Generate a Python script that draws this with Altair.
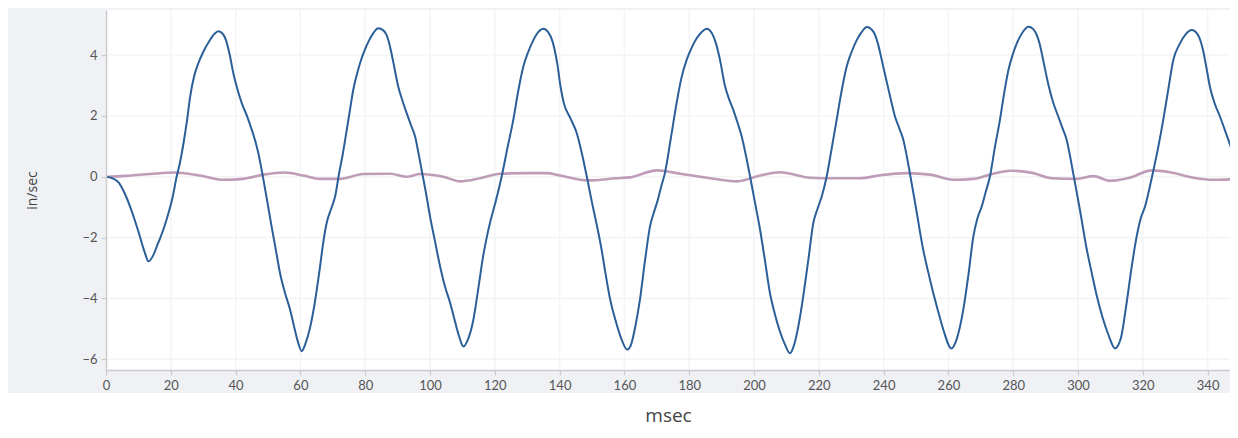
import altair as alt
import pandas as pd

# ---- data ----
blue_t = [0, 2, 4, 6, 8, 10, 12, 13.1, 14.5, 16, 17.5, 19, 20.5, 21.8, 22.8, 24, 25, 26, 27.2, 28.5, 30, 32, 33.5, 34.7,
          36, 37, 38.2, 39.3, 40.5, 41.9, 43.5, 45, 46, 47, 48.6, 50, 51.1, 52.5, 53.7, 55.2, 56.8, 58, 59.3, 60.4,
          61.5, 63, 64.5, 66, 67, 68.1, 69.5, 70.7, 72, 73, 74.3, 75.3, 76.3, 77.4, 78.4, 79.8, 81, 82.5, 84.0,
          85.5, 86.5, 87.5, 88.7, 90.2, 91.5, 92.8, 94.1, 95.4, 96.4, 97.4, 98.7, 100, 101.5, 103.1, 104.6, 106.2, 107.7, 109, 110.3,
          111.5, 113.4, 115, 116.4, 117.5, 118.5, 120.3, 122.1, 123.9, 125.7, 127.2, 128.8, 130.3, 131.9, 133.4, 135.0,
          136.4, 137.8, 139.3, 140.3, 141.3, 143.2, 145.3, 146.8, 148.4, 150, 151.5, 152.8, 154.2, 155.6, 157.2, 158.8, 160.9,
          162.1, 163.4, 164.8, 166.3, 167.9, 169, 170.2, 171.4, 172.5, 174.3, 176.1, 177.6, 179.2, 180.8, 182.3, 183.8, 185.4,
          186.8, 188.2, 189.5, 191, 192.3, 193.6, 195, 196.2, 197.5, 198.8, 200.3, 201.8, 203.3, 204.9, 206.4, 207.9, 209.5, 211.1,
          212.3, 213.7, 215.2, 216.8, 218.3, 219.6, 220.9, 222.4, 224, 225.5, 227, 228.6, 230.1, 231.7, 233.2, 234.8,
          236.2, 237.2, 238.3, 239.5, 241, 242.3, 243.5, 244.8, 246.1, 247.1, 248.1, 250.1, 252.2, 253.8, 255.3, 256.9, 258.5, 260.9,
          262.5, 264.6, 266.2, 267.7, 269, 270.3, 271.5, 272.8, 274.3, 275.9, 277.2, 278.5, 279.8, 281.1, 282.9, 284.7,
          286.1, 287.1, 288.2, 289.4, 290.8, 292.3, 293.9, 295.2, 296.5, 297.5, 298.5, 300.6, 302.7, 304.3, 305.8, 307.5, 309.4, 311.4,
          313.1, 315, 316.5, 318.1, 319.4, 320.7, 322, 323.3, 324.8, 326.3, 327.9, 329.4, 331.3, 333.2, 335.1,
          336.4, 337.4, 338.5, 339.6, 340.7, 342.2, 343.8, 345.1, 346.4, 347.5, 348.5]
blue_v = [0, -0.05, -0.2, -0.6, -1.15, -1.8, -2.5, -2.78, -2.6, -2.2, -1.8, -1.3, -0.7, 0, 0.45, 1.15, 1.85, 2.65, 3.3, 3.73, 4.1, 4.48, 4.7, 4.78,
          4.7, 4.5, 4.0, 3.4, 2.9, 2.42, 2.0, 1.54, 1.2, 0.78, -0.1, -0.95, -1.63, -2.45, -3.16, -3.8, -4.36, -4.9, -5.45, -5.73,
          -5.5, -4.95, -4.1, -3.0, -2.2, -1.52, -1.05, -0.65, 0.15, 0.7, 1.54, 2.2, 2.85, 3.35, 3.73, 4.15, 4.44, 4.72, 4.88,
          4.82, 4.68, 4.35, 3.75, 2.96, 2.5, 2.09, 1.7, 1.32, 0.8, 0.23, -0.5, -1.3, -2.1, -2.94, -3.6, -4.14, -4.75, -5.25, -5.58,
          -5.4, -4.69, -3.6, -2.61, -2.0, -1.52, -0.8, 0, 0.95, 1.87, 2.8, 3.62, 4.1, 4.49, 4.75, 4.86,
          4.76, 4.45, 3.7, 2.95, 2.42, 1.95, 1.43, 0.8, 0, -0.85, -1.6, -2.3, -3.2, -4.03, -4.7, -5.25, -5.68,
          -5.5, -4.9, -4.03, -2.8, -1.63, -1.2, -0.8, -0.3, 0.12, 1.25, 2.42, 3.25, 3.84, 4.25, 4.55, 4.75, 4.86,
          4.75, 4.4, 3.84, 3.0, 2.55, 2.2, 1.75, 1.32, 0.7, 0, -0.85, -1.7, -2.7, -3.81, -4.5, -5.05, -5.5, -5.8,
          -5.55, -4.9, -3.92, -2.7, -1.52, -1.05, -0.65, 0, 0.95, 1.87, 2.8, 3.62, 4.1, 4.49, 4.75, 4.92,
          4.85, 4.7, 4.35, 3.8, 3.1, 2.5, 1.98, 1.6, 1.21, 0.7, 0.12, -1.1, -2.39, -3.15, -3.81, -4.45, -5.05, -5.64,
          -5.35, -4.36, -3.2, -1.96, -1.35, -0.97, -0.5, 0, 0.95, 1.87, 2.75, 3.5, 4.0, 4.38, 4.75, 4.93,
          4.86, 4.7, 4.35, 3.75, 3.05, 2.45, 1.98, 1.6, 1.21, 0.7, 0.12, -1.1, -2.39, -3.2, -3.92, -4.6, -5.2, -5.64,
          -5.35, -4.14, -3.0, -1.96, -1.35, -0.97, -0.4, 0.23, 1.0, 1.87, 2.9, 3.84, 4.35, 4.68, 4.82,
          4.75, 4.58, 4.2, 3.6, 2.96, 2.4, 1.98, 1.6, 1.21, 0.85, 0.45]

pink_t = [0, 6, 13.6, 20.8, 29, 36.2, 42.4, 48.6, 55.2, 60.9, 66, 72.2, 79.4, 87.7, 92.8, 96.9, 104.1, 109.3,
          115.4, 121.6, 129.8, 136, 140.1, 148.9, 157.6, 161.7, 170, 177.2, 185.4, 194.7, 201.9, 208, 217.3,
          224.5, 232.7, 238.9, 247.1, 254.3, 261.5, 267.7, 272.8, 279, 286.2, 291.9, 299.6, 304.7, 309.9, 316,
          322.7, 328.4, 335.6, 341.8, 348.5]
pink_v = [0, 0.03, 0.09, 0.14, 0.04, -0.1, -0.07, 0.07, 0.14, 0.04, -0.07, -0.07, 0.09, 0.1, 0, 0.09, 0, -0.15,
          -0.05, 0.1, 0.12, 0.12, 0.04, -0.12, -0.05, -0.02, 0.21, 0.1, -0.03, -0.15, 0.04, 0.15, -0.03,
          -0.05, -0.05, 0.05, 0.12, 0.07, -0.1, -0.07, 0.07, 0.2, 0.12, -0.05, -0.07, 0.02, -0.13, -0.03,
          0.21, 0.15, -0.03, -0.1, -0.08]

x_ticks = list(range(0, 341, 20))
y_ticks = [-6, -4, -2, 0, 2, 4]
x_domain = [0, 346.9]
y_domain = [-6.35, 5.48]

W, H = 1124, 360
PANEL = "#eff1f5"
BLUE = "#2b5f98"
PINK = "#b48cad"
GRID = "#f3f4f6"

blue = pd.DataFrame({"t": blue_t, "v": blue_v})
pink = pd.DataFrame({"t": pink_t, "v": pink_v})
xgrid = pd.DataFrame({"t": x_ticks})
ygrid = pd.DataFrame({"v": y_ticks})
one = pd.DataFrame({"k": [0]})

xscale = alt.Scale(domain=x_domain, nice=False, zero=False)
yscale = alt.Scale(domain=y_domain, nice=False, zero=False)

common_axis = dict(
    zindex=1, grid=False, labelFlush=False,
    domainColor="#c9cbcf", domainWidth=1.5, tickColor="#c9cbcf", tickSize=5, tickWidth=1.2,
    labelFont="Lato", labelFontSize=13, labelColor="#555555", labelPadding=4,
    titleFontWeight="normal", titleColor="#444444",
)
xaxis = alt.Axis(title="msec", values=x_ticks, titleFont="Open Sans", titleFontSize=19,
                 titlePadding=14, **common_axis)
yaxis = alt.Axis(title="in/sec", values=y_ticks, titleFont="Open Sans", titleFontSize=14,
                 titlePadding=42, **common_axis)

panel = alt.Chart(one).mark_rect(color=PANEL).encode(
    x=alt.value(-110), x2=alt.value(W + 20), y=alt.value(-10), y2=alt.value(H + 23)
)
plotbg = alt.Chart(one).mark_rect(color="white").encode(
    x=alt.value(0), x2=alt.value(W), y=alt.value(0), y2=alt.value(H)
)
vgrid = alt.Chart(xgrid).mark_rule(color=GRID, strokeWidth=1.5).encode(
    x=alt.X("t:Q", scale=xscale, axis=xaxis)
)
hgrid = alt.Chart(ygrid).mark_rule(color=GRID, strokeWidth=1.5).encode(
    y=alt.Y("v:Q", scale=yscale, axis=yaxis)
)

pink_line = alt.Chart(pink).mark_line(color=PINK, strokeWidth=2.6, opacity=0.85, clip=True,
                                      interpolate="monotone").encode(
    x=alt.X("t:Q", scale=xscale, axis=xaxis),
    y=alt.Y("v:Q", scale=yscale, axis=yaxis),
)
blue_line = alt.Chart(blue).mark_line(color=BLUE, strokeWidth=2, clip=True,
                                      interpolate="monotone").encode(
    x=alt.X("t:Q", scale=xscale, axis=xaxis),
    y=alt.Y("v:Q", scale=yscale, axis=yaxis),
)

chart = alt.layer(panel, plotbg, vgrid, hgrid, pink_line, blue_line).properties(
    width=W, height=H,
    autosize=alt.AutoSizeParams(type="none"),
    padding={"left": 98, "top": 2, "right": 0, "bottom": 57},
).configure(background="white").configure_view(stroke=None)

chart.save("out.html", embed_options={"renderer": "svg", "actions": False})
